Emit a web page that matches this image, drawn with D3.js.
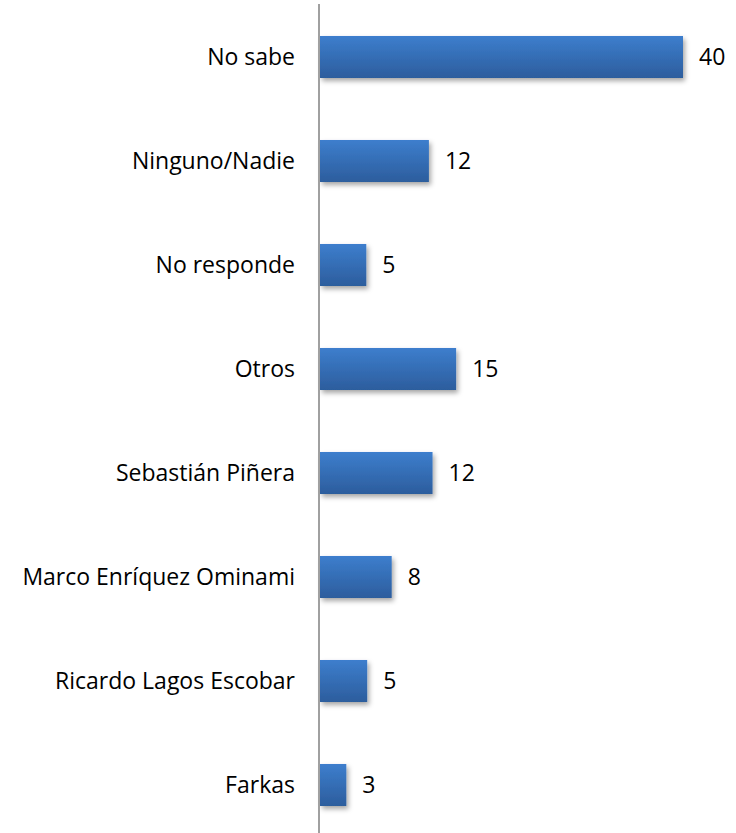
<!DOCTYPE html>
<html><head><meta charset="utf-8">
<script src="https://cdn.jsdelivr.net/npm/d3@7/dist/d3.min.js"></script>
<style>body{margin:0;background:#fff}</style>
</head><body>
<svg id="c" width="736" height="833"></svg>
<script>
const categories = ["No sabe","Ninguno/Nadie","No responde","Otros","Sebastián Piñera","Marco Enríquez Ominami","Ricardo Lagos Escobar","Farkas"];
const values = [40,12,5.1,15,12.4,7.9,5.2,2.9];

const svg = d3.select("#c");
const x0 = 320, xMax = 40, xPx = 363;
const x = d3.scaleLinear().domain([0, xMax]).range([x0, x0 + xPx]);
const y = d3.scaleBand().domain(categories).range([5, 837]).paddingInner(0.596).paddingOuter(0.298);
const fmt = d3.format(".0f");

const defs = svg.append("defs");
const g = defs.append("linearGradient").attr("id","bg").attr("x1",0).attr("y1",0).attr("x2",0).attr("y2",1);
g.append("stop").attr("offset","0%").attr("stop-color","#3d7ecd");
g.append("stop").attr("offset","100%").attr("stop-color","#2c5d9d");
const f = defs.append("filter").attr("id","sh").attr("x","-20%").attr("y","-20%").attr("width","150%").attr("height","160%");
f.append("feDropShadow").attr("dx",2).attr("dy",3).attr("stdDeviation",2.5).attr("flood-color","#000").attr("flood-opacity",0.35);

svg.selectAll("rect.bar").data(categories).join("rect").attr("class","bar")
  .attr("x", x(0)).attr("y", d => y(d))
  .attr("width", (d,i) => x(values[i]) - x(0)).attr("height", y.bandwidth())
  .attr("fill","url(#bg)").attr("filter","url(#sh)");

svg.append("line").attr("x1",319).attr("x2",319).attr("y1",4).attr("y2",833)
  .attr("stroke","#a0a0a0").attr("stroke-width",2);

const font = "'Open Sans', 'Noto Sans', sans-serif";
svg.selectAll("text.cat").data(categories).join("text").attr("class","cat")
  .attr("x", 295).attr("y", d => y(d) + y.bandwidth()/2 - 1.5)
  .attr("text-anchor","end").attr("dominant-baseline","central")
  .style("font-family", font).style("font-size","23px").attr("fill","#000")
  .text(d => d);

svg.selectAll("text.val").data(categories).join("text").attr("class","val")
  .attr("x", (d,i) => x(values[i]) + 16).attr("y", d => y(d) + y.bandwidth()/2 - 1.5)
  .attr("dominant-baseline","central")
  .style("font-family", font).style("font-size","23px").attr("fill","#000")
  .text((d,i) => fmt(values[i]));
</script>
</body></html>
